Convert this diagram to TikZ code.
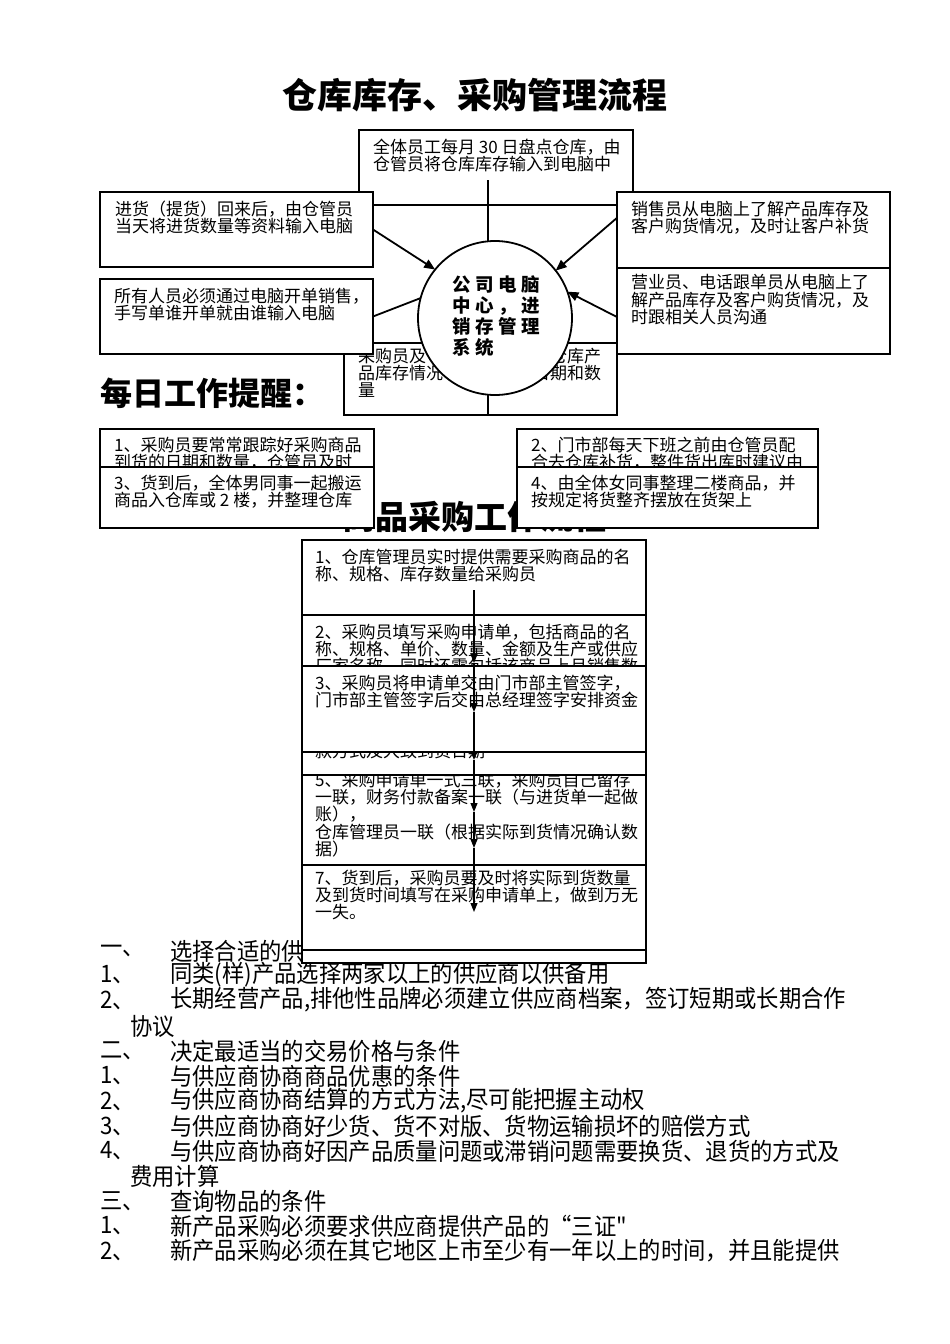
\documentclass[tikz,border=0pt]{standalone}
\usepackage{fontspec}
\setmainfont{Noto Sans CJK SC}
\newfontfamily\listfont[FakeStretch=0.93]{Noto Sans CJK SC}
\usetikzlibrary{arrows.meta,calc}
\newcommand\bxf{\fontsize{17}{17.4}\selectfont\lineskiplimit=-8pt\relax}
\newcommand\cfont{\bfseries\fontsize{18.5}{21}\selectfont\lineskiplimit=-8pt\relax}
\newcommand\lsf{\listfont\fontsize{24}{25}\selectfont}
\newcommand\gp{\hspace{4.5pt}}
\begin{document}
\begin{tikzpicture}[x=1pt,y=-1pt,
  box/.style={draw=black,line width=1.6pt,fill=white,anchor=north west,inner sep=0pt,outer sep=0pt},
  txt/.style={anchor=north west,inner sep=0pt,align=left,font=\bxf},
  frag/.style={anchor=west,inner sep=0pt,font=\bxf},
  lst/.style={anchor=west,inner sep=0pt,font=\lsf},
  heading/.style={inner sep=0pt,font=\bfseries\fontsize{34}{38}\selectfont},
  conn/.style={line width=1.8pt},
  arr/.style={line width=1.8pt,-{Triangle[length=11pt,width=9pt]}},
  farr/.style={line width=1.1pt,-{Triangle[length=9pt,width=7pt]}}]
\fill[white] (0,0) rectangle (950,1344);
\useasboundingbox (0,0) rectangle (950,1344);

% title
\node[heading,font=\bfseries\fontsize{35}{40}\selectfont] (title) at (475,95) {仓库库存、采购管理流程};

% top box and bottom box (behind)
\node[box,minimum width=274pt,minimum height=75pt] (T) at (359,130) {};
\node[txt] (Tt) at (373,138.5) {全体员工每月 30 日盘点仓库，由\\仓管员将仓库库存输入到电脑中};
\node[box,minimum width=273pt,minimum height=72pt] (B) at (344,343) {};
\node[frag] (Ba) at (358,356) {采购员及};
\node[frag] (Bb) at (550,356) {仓库产};
\node[frag] (Bc) at (358,373) {品库存情况};
\node[frag] (Bd) at (533,373) {日期和数};
\node[frag] (Be) at (358,390) {量};

% side boxes
\node[box,minimum width=273pt,minimum height=75pt] (L1) at (100,192) {};
\node[txt] (L1t) at (115,200.5) {进货（提货）回来后，由仓管员\\当天将进货数量等资料输入电脑};
\node[box,minimum width=273pt,minimum height=75pt] (L2) at (100,279) {};
\node[txt] (L2t) at (114,287.5) {所有人员必须通过电脑开单销售，\\手写单谁开单就由谁输入电脑};
\node[box,minimum width=273pt,minimum height=76pt] (R1) at (617,192) {};
\node[txt] (R1t) at (631,200.5) {销售员从电脑上了解产品库存及\\客户购货情况，及时让客户补货};
\node[box,minimum width=273pt,minimum height=86pt] (R2) at (617,268) {};
\node[txt] (R2t) at (631,274.5) {营业员、电话跟单员从电脑上了\\解产品库存及客户购货情况，及\\时跟相关人员沟通};

% centre circle
\node[circle,draw=black,line width=1.8pt,fill=white,minimum size=154pt,inner sep=0pt,outer sep=0pt] (C) at (495,318) {};
\node[anchor=north west,inner sep=0pt,align=left,font=\cfont] (Ct) at (452,275)
  {公\gp 司\gp 电\gp 脑\\中\gp 心\gp ，\gp 进\\销\gp 存\gp 管\gp 理\\系\gp 统};

% connectors of the top part
\coordinate (tA) at (488,180);
\coordinate (bA) at (488,415);
\draw[conn] (tA) -- (tA |- C.north);
\draw[conn] (C.south -| bA) -- (bA);
\draw[arr] (L1.east) -- (C.141);
\draw[conn] (L2.east) -- (C.165);
\draw[arr] ($(R1.north west)!0.34!(R1.south west)$) -- (C.38);
\draw[arr] ($(R2.west)+(0,6)$) -- (C.20);

% daily reminders
\node[heading,anchor=west,font=\bfseries\fontsize{32}{36}\selectfont] (daily) at (100,393) {每日工作提醒：};
\node[heading,font=\bfseries\fontsize{33}{37}\selectfont] (proc) at (474,517) {商品采购工作流程};

\node[box,minimum width=274pt,minimum height=60pt] (D1) at (100,429) {};
\node[txt] (D1t) at (114,436.5) {1、采购员要常常跟踪好采购商品\\到货的日期和数量，仓管员及时};
\node[box,minimum width=301pt,minimum height=60pt] (D2) at (517,429) {};
\node[txt] (D2t) at (531,436.5) {2、门市部每天下班之前由仓管员配\\合去仓库补货，整件货出库时建议由};
\node[box,minimum width=274pt,minimum height=61pt] (D3) at (100,467) {};
\node[txt] (D3t) at (114,474.5) {3、货到后，全体男同事一起搬运\\商品入仓库或 2 楼，并整理仓库};
\node[box,minimum width=301pt,minimum height=61pt] (D4) at (517,467) {};
\node[txt] (D4t) at (531,474.5) {4、由全体女同事整理二楼商品，并\\按规定将货整齐摆放在货架上};

% list text (first line lies under the flow boxes)
\node[lst] (n1) at (100,951) {一、};   \node[lst] (m1) at (170,951) {选择合适的供应商};
\node[lst] (n2) at (100,975) {1、};    \node[lst] (m2) at (170,975) {同类(样)产品选择两家以上的供应商以供备用};
\node[lst] (n3) at (100,1000) {2、};   \node[lst] (m3) at (170,1000) {长期经营产品,排他性品牌必须建立供应商档案，签订短期或长期合作};
\node[lst] (m4) at (130,1026) {协议};
\node[lst] (n5) at (100,1051) {二、};  \node[lst] (m5) at (170,1051) {决定最适当的交易价格与条件};
\node[lst] (n6) at (100,1076) {1、};   \node[lst] (m6) at (170,1076) {与供应商协商商品优惠的条件};
\node[lst] (n7) at (100,1101) {2、};   \node[lst] (m7) at (170,1101) {与供应商协商结算的方式方法,尽可能把握主动权};
\node[lst] (n8) at (100,1126) {3、};   \node[lst] (m8) at (170,1126) {与供应商协商好少货、货不对版、货物运输损坏的赔偿方式};
\node[lst] (n9) at (100,1151) {4、};   \node[lst] (m9) at (170,1151) {与供应商协商好因产品质量问题或滞销问题需要换货、退货的方式及};
\node[lst] (m10) at (130,1176) {费用计算};
\node[lst] (n11) at (100,1201) {三、}; \node[lst] (m11) at (170,1201) {查询物品的条件};
\node[lst] (n12) at (100,1226) {1、};  \node[lst] (m12) at (170,1226) {新产品采购必须要求供应商提供产品的“三证"};
\node[lst] (n13) at (100,1251) {2、};  \node[lst] (m13) at (170,1251) {新产品采购必须在其它地区上市至少有一年以上的时间，并且能提供};

% purchasing flow boxes
\node[box,minimum width=344pt,minimum height=75pt] (F1) at (302,540) {};
\node[txt] (F1t) at (315,548.5) {1、仓库管理员实时提供需要采购商品的名\\称、规格、库存数量给采购员};
\node[box,minimum width=344pt,minimum height=80pt] (F2) at (302,615) {};
\node[txt] (F2t) at (315,623.5) {2、采购员填写采购申请单，包括商品的名\\称、规格、单价、数量、金额及生产或供应\\厂家名称，同时还需包括该商品上月销售数};
\node[box,minimum width=344pt,minimum height=105pt] (F5) at (302,760) {};
\node[txt] (F5t) at (315,771.5) {5、采购申请单一式三联，采购员自己留存\\一联，财务付款备案一联（与进货单一起做\\账），\\仓库管理员一联（根据实际到货情况确认数\\据）};
\node[box,minimum width=344pt,minimum height=40pt] (F4) at (302,735) {};
\node[txt] (F4t) at (315,742.5) {款方式及大致到货日期};
\node[box,minimum width=344pt,minimum height=86pt] (F3) at (302,666) {};
\node[txt] (F3t) at (315,674.5) {3、采购员将申请单交由门市部主管签字，\\门市部主管签字后交由总经理签字安排资金};
\node[box,minimum width=344pt,minimum height=85pt] (F7) at (302,865) {};
\node[txt] (F7t) at (315,869.5) {7、货到后，采购员要及时将实际到货数量\\及到货时间填写在采购申请单上，做到万无\\一失。};
\node[box,minimum width=344pt,minimum height=13pt] (F8) at (302,950) {};

% flow arrows
\coordinate (a0) at (474,590);
\coordinate (a1) at (474,663);
\coordinate (a2) at (474,712);
\coordinate (a3) at (474,760);
\coordinate (a4) at (474,812);
\coordinate (a5) at (474,848);
\coordinate (a6) at (474,912);
\draw[farr] (a0) -- (a1);
\draw[farr] (a1) -- (a2);
\draw[farr] (a2) -- (a3);
\draw[farr] (a3) -- (a4);
\draw[farr] (a4) -- (a5);
\draw[farr] (a5) -- (a6);
\end{tikzpicture}
\end{document}
